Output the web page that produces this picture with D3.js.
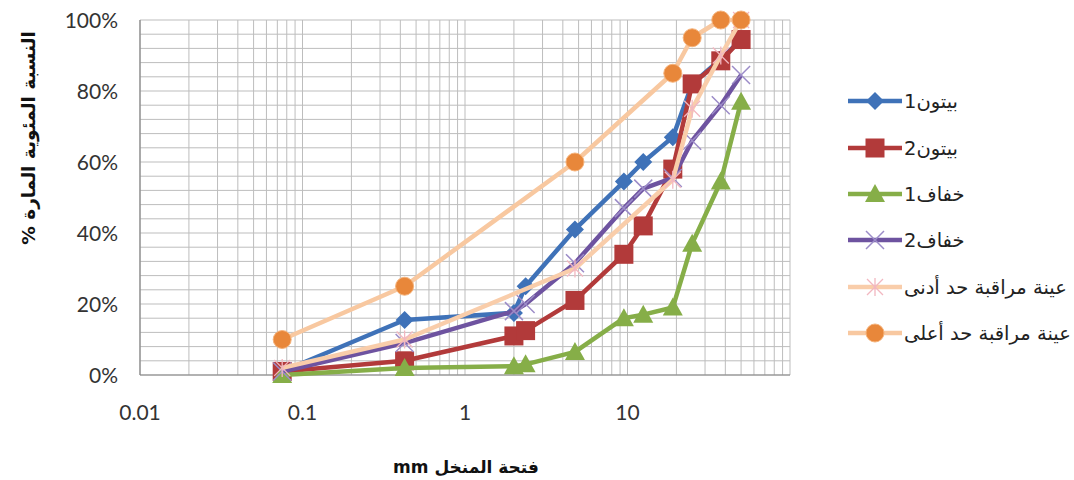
<!DOCTYPE html>
<html>
<head>
<meta charset="utf-8">
<script src="https://cdn.jsdelivr.net/npm/d3@7"></script>
<style>
  body { margin: 0; background: #fff; }
  svg { display: block; }
</style>
</head>
<body>
<svg id="chart" width="1074" height="480"></svg>
<script>
// ---- data ----
const sieves = [0.075, 0.425, 2, 2.36, 4.75, 9.5, 12.5, 19, 25, 37.5, 50];
const beton1  = [1, 15.5, 17.5, 25, 41, 54.5, 60, 67, 82, 89, 94.5];
const beton2  = [1, 4, 11, 12.5, 21, 34, 42, 58, 82, 88.5, 94.5];
const khafaf1 = [0, 2, 2.5, 3, 6.5, 16, 17, 19, 37, 54.5, 77];
const khafaf2 = [1, 9, 18, 20, 31.5, 47, 52.5, 55.5, 66, 76, 84.5];
const limitSieves = [0.075, 0.425, 4.75, 19, 25, 37.5, 50];
const lowerLimit = [2, 10, 30, 55, 75, 90, 100];
const upperLimit = [10, 25, 60, 85, 95, 100, 100];
const xTicks = [0.01, 0.1, 1, 10];
const xTickLabels = ["0.01", "0.1", "1", "10"];
const yTicks = [0, 20, 40, 60, 80, 100];
const seriesNames = ["بيتون1", "بيتون2", "خفاف1", "خفاف2", "عينة مراقبة حد أدنى", "عينة مراقبة حد أعلى"];
const xTitle = "mm فتحة المنخل";
const yTitle = "% النسبة المئوية المارة";

// ---- layout ----
const svg = d3.select("#chart");
const L = 140, R = 790, T = 20, B = 375;
const x = d3.scaleLog().domain([0.01, 100]).range([L, R]);
const y = d3.scaleLinear().domain([0, 100]).range([B, T]);

const series = [
  {name: seriesNames[0], xs: sieves, ys: beton1, color: "#3F72B8", marker: "diamond"},
  {name: seriesNames[1], xs: sieves, ys: beton2, color: "#B23A3A", marker: "square"},
  {name: seriesNames[2], xs: sieves, ys: khafaf1, color: "#86AE48", marker: "triangle"},
  {name: seriesNames[3], xs: sieves, ys: khafaf2, color: "#6E53A0", marker: "x"},
  {name: seriesNames[4], xs: limitSieves, ys: lowerLimit, color: "#F9CDAA", marker: "star"},
  {name: seriesNames[5], xs: limitSieves, ys: upperLimit, color: "#F8C8A0", marker: "circle"}
];

// ---- grid ----
const grid = svg.append("g");
const minorX = [];
for (let e = -2; e < 2; e++) for (let m = 1; m <= 9; m++) minorX.push(m * Math.pow(10, e));
minorX.push(100);
grid.selectAll("line.vx").data(minorX).enter().append("line")
  .attr("x1", d => x(d)).attr("x2", d => x(d)).attr("y1", T).attr("y2", B)
  .attr("stroke", "#BDBDBD").attr("stroke-width", 1);
const minorY = d3.range(0, 101, 4);
grid.selectAll("line.hy").data(minorY).enter().append("line")
  .attr("x1", L).attr("x2", R).attr("y1", d => y(d)).attr("y2", d => y(d))
  .attr("stroke", "#BDBDBD").attr("stroke-width", 1);

// axes lines
svg.append("line").attr("x1", L).attr("x2", L).attr("y1", T).attr("y2", B).attr("stroke", "#868686").attr("stroke-width", 1.2);
svg.append("line").attr("x1", L).attr("x2", R).attr("y1", B).attr("y2", B).attr("stroke", "#868686").attr("stroke-width", 1.2);

// y tick labels
svg.append("g").selectAll("text").data(yTicks).enter().append("text")
  .attr("x", 118).attr("y", d => y(d)).attr("dy", "0.36em")
  .attr("text-anchor", "end").attr("font-family", "Lato, 'Open Sans', sans-serif")
  .attr("font-size", 21).attr("fill", "#333").text(d => d + "%");

// x tick labels
svg.append("g").selectAll("text").data(xTicks).enter().append("text")
  .attr("x", d => x(d)).attr("y", 420)
  .attr("text-anchor", "middle").attr("font-family", "Lato, 'Open Sans', sans-serif")
  .attr("font-size", 21).attr("fill", "#333").text((d, i) => xTickLabels[i]);

// titles
svg.append("text").attr("x", 466).attr("y", 473).attr("text-anchor", "middle")
  .attr("font-family", "'DejaVu Sans', 'Liberation Sans', sans-serif").attr("font-weight", "bold")
  .attr("font-size", 17).attr("fill", "#111").text(xTitle);
svg.append("text").attr("transform", "translate(35,138) rotate(-90)").attr("text-anchor", "middle")
  .attr("font-family", "'DejaVu Sans', 'Liberation Sans', sans-serif").attr("font-weight", "bold")
  .attr("font-size", 18.5).attr("fill", "#111").text(yTitle);

// ---- markers ----
function drawMarker(g, type, cx, cy, color) {
  if (type === "diamond") {
    const s = 9;
    g.append("path").attr("d", `M${cx},${cy - s}L${cx + s},${cy}L${cx},${cy + s}L${cx - s},${cy}Z`).attr("fill", color);
  } else if (type === "square") {
    const s = 9.5;
    g.append("rect").attr("x", cx - s).attr("y", cy - s).attr("width", 2 * s).attr("height", 2 * s).attr("fill", color);
  } else if (type === "triangle") {
    const s = 10;
    g.append("path").attr("d", `M${cx},${cy - s}L${cx + s},${cy + s * 0.8}L${cx - s},${cy + s * 0.8}Z`).attr("fill", color);
  } else if (type === "x") {
    const s = 9;
    g.append("path").attr("d", `M${cx - s},${cy - s}L${cx + s},${cy + s}M${cx - s},${cy + s}L${cx + s},${cy - s}`)
      .attr("stroke", "#9C8CC8").attr("stroke-width", 1.5).attr("fill", "none");
  } else if (type === "star") {
    const s = 8;
    g.append("path").attr("d", `M${cx - s},${cy - s}L${cx + s},${cy + s}M${cx - s},${cy + s}L${cx + s},${cy - s}M${cx},${cy - s - 1}L${cx},${cy + s + 1}`)
      .attr("stroke", "#F2B7C0").attr("stroke-width", 1.3).attr("fill", "none");
  } else if (type === "circle") {
    g.append("circle").attr("cx", cx).attr("cy", cy).attr("r", 9).attr("fill", "#E8873A")
      .attr("stroke", "#F5B27A").attr("stroke-width", 1);
  }
}

// ---- series ----
const line = d3.line().x(d => x(d[0])).y(d => y(d[1]));
series.forEach(s => {
  const pts = s.xs.map((v, i) => [v, s.ys[i]]);
  const g = svg.append("g");
  g.append("path").attr("d", line(pts)).attr("fill", "none")
    .attr("stroke", s.color).attr("stroke-width", 4.5).attr("stroke-linejoin", "round");
  pts.forEach(p => drawMarker(g, s.marker, x(p[0]), y(p[1]), s.color));
});

// ---- legend ----
const legY = [101, 148, 194, 240, 287, 333];
const leg = svg.append("g");
series.forEach((s, i) => {
  const g = leg.append("g");
  g.append("line").attr("x1", 848).attr("x2", 902).attr("y1", legY[i]).attr("y2", legY[i])
    .attr("stroke", s.color).attr("stroke-width", 4.5);
  drawMarker(g, s.marker, 875, legY[i], s.color);
  g.append("text").attr("x", 904).attr("y", legY[i]).attr("dy", "0.35em")
    .attr("font-family", "'DejaVu Sans', 'Liberation Sans', sans-serif").attr("font-size", 19.5)
    .attr("fill", "#222").text(s.name);
});
</script>
</body>
</html>
